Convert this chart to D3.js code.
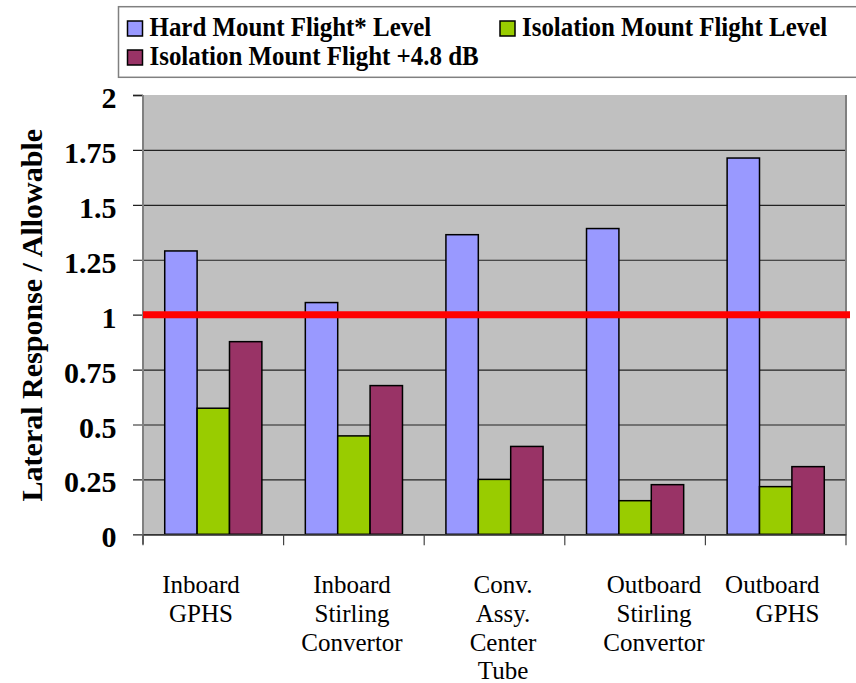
<!DOCTYPE html>
<html>
<head>
<meta charset="utf-8">
<script src="https://cdn.jsdelivr.net/npm/d3@7"></script>
<style>
  html, body { margin: 0; padding: 0; background: #ffffff; }
  svg { display: block; }
  text { font-family: "Liberation Serif", "Times New Roman", serif; }
</style>
</head>
<body>
<svg id="chart" width="856" height="683"></svg>
<script>
// ---- data ----
const categoryLines = [
  ["Inboard", "GPHS"],
  ["Inboard", "Stirling", "Convertor"],
  ["Conv.", "Assy.", "Center", "Tube"],
  ["Outboard", "Stirling", "Convertor"],
  ["Outboard", "GPHS"]
];
const categories = categoryLines.map(l => l.join(" "));
const seriesNames = [
  "Hard Mount Flight* Level",
  "Isolation Mount Flight Level",
  "Isolation Mount Flight +4.8 dB"
];
const hardMount = [1.29, 1.055, 1.364, 1.392, 1.713];
const isoMount = [0.574, 0.448, 0.25, 0.153, 0.217];
const isoMountPlus = [0.877, 0.677, 0.40, 0.226, 0.308];
const seriesValues = [hardMount, isoMount, isoMountPlus];
const seriesColors = ["#9999FF", "#99CC00", "#993366"];
const yTicks = [0, 0.25, 0.5, 0.75, 1, 1.25, 1.5, 1.75, 2];
const allowableLimit = 1;
const yTitle = "Lateral Response / Allowable";

// ---- layout ----
const svg = d3.select("#chart");
const plot = { left: 143, right: 846, top: 95, bottom: 534.3 };

const y = d3.scaleLinear().domain([0, 2]).range([plot.bottom, plot.top]);
const x0 = d3.scaleBand().domain(categories).range([plot.left, plot.right]).padding(0);
const gapFrac = 0.309;
const x1 = d3.scaleBand().domain(seriesNames)
  .range([x0.bandwidth() * gapFrac / 2, x0.bandwidth() * (1 - gapFrac / 2)]).padding(0);

// plot background
svg.append("rect")
  .attr("x", plot.left).attr("y", plot.top)
  .attr("width", plot.right - plot.left).attr("height", plot.bottom - plot.top)
  .attr("fill", "#C0C0C0");

// gridlines + y ticks (axis)
const yAxis = d3.axisLeft(y).tickValues(yTicks)
  .tickSize(plot.right - plot.left + 10)
  .tickFormat(d => d3.format("")(d));
const yg = svg.append("g")
  .attr("transform", `translate(${plot.right},0)`)
  .call(yAxis);
yg.select(".domain").remove();
yg.selectAll(".tick line").attr("stroke", "#222").attr("stroke-width", 1.2);
yg.selectAll(".tick").filter(d => d === 2).select("line")
  .attr("x1", -(plot.right - plot.left)).attr("stroke", "#808080").attr("stroke-width", 2)
  .clone(true).attr("x1", -(plot.right - plot.left)).attr("x2", -(plot.right - plot.left + 10)).attr("stroke", "#222").attr("stroke-width", 1.2);
yg.selectAll(".tick text")
  .attr("x", -(plot.right - plot.left) - 26.5)
  .attr("dy", "0.42em")
  .attr("text-anchor", "end")
  .attr("font-size", 30)
  .attr("font-weight", "bold")
  .attr("fill", "#000");

// plot border (left and right)
svg.append("line").attr("x1", plot.left).attr("x2", plot.left)
  .attr("y1", plot.top).attr("y2", plot.bottom + 10)
  .attr("stroke", "#808080").attr("stroke-width", 2);
svg.append("line").attr("x1", plot.right).attr("x2", plot.right)
  .attr("y1", plot.top).attr("y2", plot.bottom)
  .attr("stroke", "#808080").attr("stroke-width", 2);

// bars
const groups = svg.append("g").selectAll("g")
  .data(categories)
  .join("g")
  .attr("transform", d => `translate(${x0(d)},0)`);
groups.selectAll("rect")
  .data((d, i) => seriesNames.map((s, j) => ({ s, v: seriesValues[j][i], c: seriesColors[j] })))
  .join("rect")
  .attr("x", d => x1(d.s))
  .attr("y", d => y(d.v))
  .attr("width", x1.bandwidth())
  .attr("height", d => y(0) - y(d.v))
  .attr("fill", d => d.c)
  .attr("stroke", "#000")
  .attr("stroke-width", 1.5);

// x axis
const xAxis = d3.axisBottom(x0).tickSize(0).tickFormat("");
const xg = svg.append("g").attr("transform", `translate(0,${plot.bottom})`).call(xAxis);
xg.select(".domain").attr("stroke", "#333").attr("stroke-width", 1.5);
const boundaries = categories.map(c => x0(c)).concat([plot.right]);
xg.selectAll("line.bnd").data(boundaries).join("line")
  .attr("class", "bnd")
  .attr("x1", d => d).attr("x2", d => d)
  .attr("y1", 0).attr("y2", 11)
  .attr("stroke", "#444").attr("stroke-width", 1.2);

// category labels
const labelBand = d3.scaleBand().domain(categories)
  .range([plot.left - 17.5, plot.right + 34.5]);
const labelLimit = plot.right - 26.5;
const lg = svg.append("g");
categoryLines.forEach((lines, i) => {
  const cx = labelBand(categories[i]) + labelBand.bandwidth() / 2;
  const t = lg.append("text")
    .attr("font-size", 25)
    .attr("fill", "#000")
    .attr("text-anchor", "middle");
  lines.forEach((ln, k) => {
    t.append("tspan").attr("x", cx).attr("y", plot.bottom + 59 + k * 28.7).text(ln);
  });
  // keep the last label inside the chart edge (right aligned)
  let maxW = 0;
  t.selectAll("tspan").each(function () { maxW = Math.max(maxW, this.getComputedTextLength()); });
  if (cx + maxW / 2 > labelLimit) {
    t.attr("text-anchor", "end");
    t.selectAll("tspan").attr("x", labelLimit);
  }
});

// allowable limit line
svg.append("line")
  .attr("x1", plot.left).attr("x2", plot.right + 4)
  .attr("y1", y(allowableLimit)).attr("y2", y(allowableLimit))
  .attr("stroke", "#FF0000").attr("stroke-width", 7);

// y title
svg.append("text")
  .attr("transform", `translate(41.5,${(plot.top + plot.bottom) / 2 + 0.5}) rotate(-90)`)
  .attr("text-anchor", "middle")
  .attr("font-size", 30)
  .attr("font-weight", "bold")
  .attr("fill", "#000")
  .text(yTitle);

// legend
const legend = svg.append("g");
legend.append("rect")
  .attr("x", 118.5).attr("y", 6.7).attr("width", 760).attr("height", 70.6)
  .attr("fill", "#fff").attr("stroke", "#808080").attr("stroke-width", 1.5);
const legendPos = [
  { x: 127.5, y: 21 },
  { x: 500, y: 21 },
  { x: 127.5, y: 50 }
];
seriesNames.forEach((name, i) => {
  const p = legendPos[i];
  legend.append("rect")
    .attr("x", p.x).attr("y", p.y).attr("width", 15).attr("height", 15)
    .attr("fill", seriesColors[i]).attr("stroke", "#000").attr("stroke-width", 1.5);
  const tx = p.x + 22;
  legend.append("text")
    .attr("transform", `translate(${tx},${p.y + 14.5}) scale(0.89,1)`)
    .attr("font-size", 28)
    .attr("font-weight", "bold")
    .attr("fill", "#000")
    .text(name);
});
</script>
</body>
</html>
